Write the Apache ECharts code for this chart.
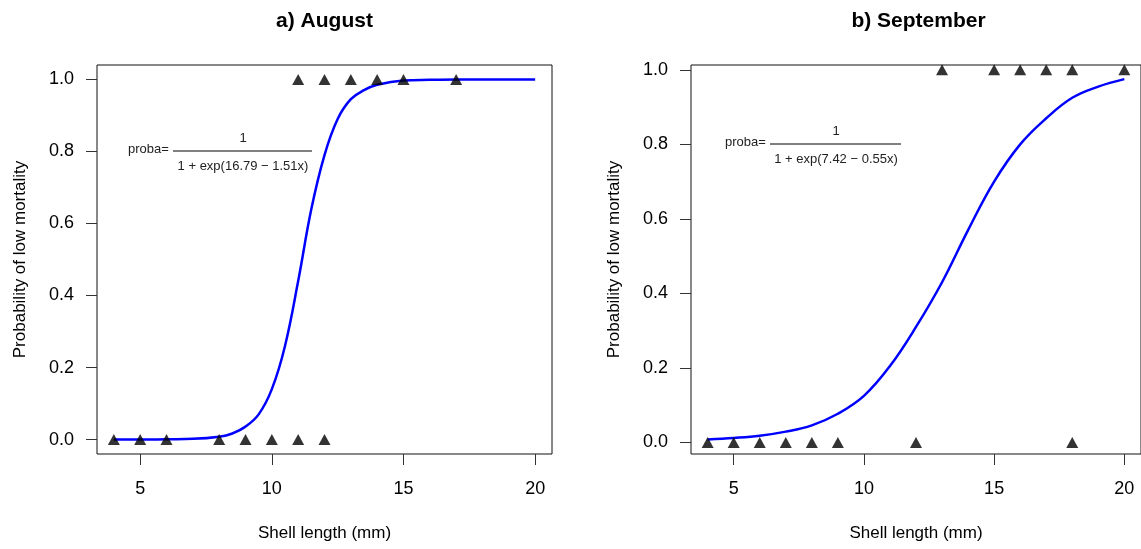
<!DOCTYPE html>
<html>
<head>
<meta charset="utf-8">
<script src="https://cdn.jsdelivr.net/npm/echarts@6/dist/echarts.min.js"></script>
<style>
  html, body { margin: 0; padding: 0; background: #fff; }
  #chart { width: 1141px; height: 549px; }
</style>
</head>
<body>
<div id="chart"></div>
<script>
// observed shells: length (mm) and outcome (0 / 1)
var augLength = [4, 5, 6, 8, 9, 10, 11, 12, 11, 12, 13, 14, 15, 17];
var augOutcome = [0, 0, 0, 0, 0, 0, 0, 0, 1, 1, 1, 1, 1, 1];
var sepLength = [4, 5, 6, 7, 8, 9, 12, 18, 13, 15, 16, 17, 18, 20];
var sepOutcome = [0, 0, 0, 0, 0, 0, 0, 0, 1, 1, 1, 1, 1, 1];

// fitted curves
var augCurveX = [4, 5, 6, 7, 8, 8.5, 9, 9.5, 10, 10.5, 11, 11.5, 12, 12.5, 13, 13.5, 14, 15, 16, 17, 18, 19, 20];
var augCurveP = [0.000, 0.000, 0.001, 0.002, 0.008, 0.017, 0.036, 0.07, 0.14, 0.26, 0.44, 0.64, 0.79, 0.89, 0.945, 0.97, 0.985, 0.997, 0.999, 1, 1, 1, 1];
var sepCurveX = [4, 5, 6, 7, 8, 9, 10, 11, 12, 13, 14, 15, 16, 17, 18, 19, 20];
var sepCurveP = [0.008, 0.012, 0.018, 0.029, 0.046, 0.077, 0.125, 0.205, 0.31, 0.43, 0.57, 0.70, 0.80, 0.87, 0.925, 0.955, 0.975];

var xTicks = [5, 10, 15, 20];
var yTicks = [0, 0.2, 0.4, 0.6, 0.8, 1.0];

var FONT = "'Liberation Sans', Arial, sans-serif";

function zip(a, b) {
  return a.map(function (v, i) { return [v, b[i]]; });
}

function xAxis(idx) {
  return {
    type: "value",
    gridIndex: idx,
    min: 3.36,
    max: 20.64,
    name: "Shell length (mm)",
    nameLocation: "middle",
    nameGap: 71,
    nameTextStyle: { color: "#000", fontSize: 17, fontFamily: FONT },
    axisLine: { show: false, onZero: false },
    axisTick: { show: true, length: 11, customValues: xTicks, lineStyle: { color: "#333" } },
    axisLabel: { customValues: xTicks, margin: 26, color: "#000", fontSize: 18, fontFamily: FONT },
    splitLine: { show: false }
  };
}

function yAxis(idx, min, max) {
  return {
    type: "value",
    gridIndex: idx,
    min: min,
    max: max,
    name: "Probability of low mortality",
    nameLocation: "middle",
    nameGap: 68,
    nameTextStyle: { color: "#000", fontSize: 17, fontFamily: FONT },
    axisLine: { show: false, onZero: false },
    axisTick: { show: true, length: 11, customValues: yTicks, lineStyle: { color: "#333" } },
    axisLabel: {
      customValues: yTicks,
      margin: 23,
      color: "#000",
      fontSize: 18,
      fontFamily: FONT,
      formatter: function (v) { return v.toFixed(1); }
    },
    splitLine: { show: false }
  };
}

function curve(idx, xs, ps) {
  return {
    type: "line",
    xAxisIndex: idx,
    yAxisIndex: idx,
    data: zip(xs, ps),
    smooth: 0.4,
    showSymbol: false,
    lineStyle: { color: "#0000ff", width: 2.5 },
    z: 2
  };
}

function points(idx, xs, ys) {
  return {
    type: "scatter",
    xAxisIndex: idx,
    yAxisIndex: idx,
    data: zip(xs, ys),
    symbol: "triangle",
    symbolSize: [12, 11],
    itemStyle: { color: "#000" },
    z: 3
  };
}

function formula(xProba, xLineEnd, yLine, text) {
  var mid = (xProba + 46 + xLineEnd) / 2;
  return [
    { type: "text", left: xProba, top: yLine - 8,
      style: { text: "proba=", font: "13px " + FONT, fill: "#222" } },
    { type: "line", shape: { x1: xProba + 45, y1: yLine, x2: xLineEnd, y2: yLine },
      style: { stroke: "#000", lineWidth: 1 } },
    { type: "text", x: mid, y: yLine - 13,
      style: { text: "1", font: "13px " + FONT, fill: "#222", align: "center", verticalAlign: "middle" } },
    { type: "text", x: mid, y: yLine + 15,
      style: { text: text, font: "13px " + FONT, fill: "#222", align: "center", verticalAlign: "middle" } }
  ];
}

var chart = echarts.init(document.getElementById("chart"));

var option = {
  animation: false,
  backgroundColor: "#fff",
  grid: [
    { left: 97, top: 65, width: 455, height: 389, show: true, borderColor: "#111", borderWidth: 1 },
    { left: 691, top: 65, width: 455, height: 389, show: true, borderColor: "#111", borderWidth: 1 }
  ],
  xAxis: [xAxis(0), xAxis(1)],
  yAxis: [yAxis(0, -0.04, 1.04), yAxis(1, -0.031, 1.013)],
  series: [
    curve(0, augCurveX, augCurveP),
    points(0, augLength, augOutcome),
    curve(1, sepCurveX, sepCurveP),
    points(1, sepLength, sepOutcome)
  ],
  graphic: [
    { type: "text", x: 324.5, y: 21,
      style: { text: "a) August", font: "bold 21px " + FONT, fill: "#000", align: "center", verticalAlign: "middle" } },
    { type: "text", x: 918.5, y: 21,
      style: { text: "b) September", font: "bold 21px " + FONT, fill: "#000", align: "center", verticalAlign: "middle" } }
  ]
    .concat(formula(128, 312, 151, "1 + exp(16.79 \u2212 1.51x)"))
    .concat(formula(725, 901, 144, "1 + exp(7.42 \u2212 0.55x)"))
};

chart.setOption(option);
</script>
</body>
</html>
